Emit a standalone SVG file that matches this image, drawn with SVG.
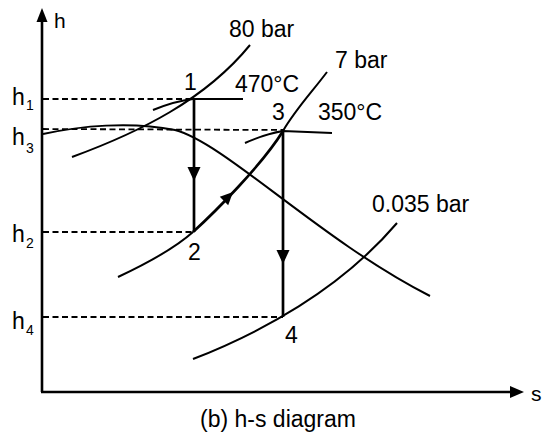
<svg xmlns="http://www.w3.org/2000/svg" width="542" height="434" viewBox="0 0 542 434">
<style>
text{font-family:"Liberation Sans",Arial,sans-serif;fill:#000}
.lbl{font-size:23px}
.sub{font-size:14px}
.ax{stroke:#000;stroke-width:2.6;fill:none}
.cv{stroke:#000;stroke-width:2;fill:none}
.pr{stroke:#000;stroke-width:2.7;fill:none}
.ds{stroke:#000;stroke-width:1.8;fill:none;stroke-dasharray:6 3.5}
.ah{fill:#000}
</style>
<rect width="542" height="434" fill="#fff"/>
<g id="axes">
<line class="ax" x1="42" y1="18" x2="42" y2="392"/>
<line class="ax" x1="41" y1="392" x2="512" y2="392"/>
<polygon class="ah" points="42,8 36.5,22 47.5,22"/>
<polygon class="ah" points="524,392 510,386 510,398"/>
<text x="54" y="28" font-size="21">h</text>
<text x="531" y="401" font-size="21">s</text>
</g>
<g id="guides">
<line class="ds" x1="43" y1="99" x2="193" y2="99"/>
<line class="ds" x1="43" y1="129" x2="283" y2="130"/>
<line class="ds" x1="43" y1="232" x2="193" y2="232"/>
<line class="ds" x1="43" y1="317" x2="283" y2="317"/>
<text class="lbl" x="12" y="105">h</text><text class="sub" x="26" y="110">1</text>
<text class="lbl" x="12" y="145">h</text><text class="sub" x="26" y="153">3</text>
<text class="lbl" x="12" y="242">h</text><text class="sub" x="26" y="248">2</text>
<text class="lbl" x="12" y="329">h</text><text class="sub" x="26" y="335">4</text>
</g>
<g id="curves">
<path id="dome" class="cv" d="M43,134 C80,126 130,121 175,130 C225,143 320,240 430,296"/>
<path id="p80" class="cv" d="M72,157 C140,132 205,100 250,45"/>
<path id="t470" class="cv" d="M153,110 Q175,101 193,99 L243,99"/>
<path id="p7lo" class="cv" d="M118,277 C150,262 175,248 193,232"/>
<path id="p7hi" class="cv" d="M283,131 C295,110 312,92 327,72"/>
<path id="t350" class="cv" d="M245,143 Q265,134 283,131 L332,133"/>
<path id="p0035" class="cv" d="M193,359 C260,333 340,290 397,223"/>
<text class="lbl" x="229" y="37">80 bar</text>
<text class="lbl" x="335" y="68">7 bar</text>
<text class="lbl" x="235" y="92">470°C</text>
<text class="lbl" x="318" y="120">350°C</text>
<text class="lbl" x="372" y="212">0.035 bar</text>
</g>
<g id="node1"><text class="lbl" x="184" y="90">1</text></g>
<g id="node2"><text class="lbl" x="188" y="260">2</text></g>
<g id="node3"><text class="lbl" x="272" y="120">3</text></g>
<g id="node4"><text class="lbl" x="285" y="343">4</text></g>
<g id="connectors">
<line class="pr" x1="194" y1="99" x2="194" y2="232"/>
<polygon class="ah" points="194,181 187.5,167 200.5,167"/>
<path class="pr" d="M193,232 C215,212 262,165 283,131"/>
<polygon class="ah" points="233,192 228.2,205.2 219.8,196.8"/>
<line class="pr" x1="283" y1="131" x2="283" y2="317"/>
<polygon class="ah" points="283,264 276.5,250 289.5,250"/>
</g>
<text x="200" y="427" font-size="23">(b) h-s diagram</text>
</svg>
